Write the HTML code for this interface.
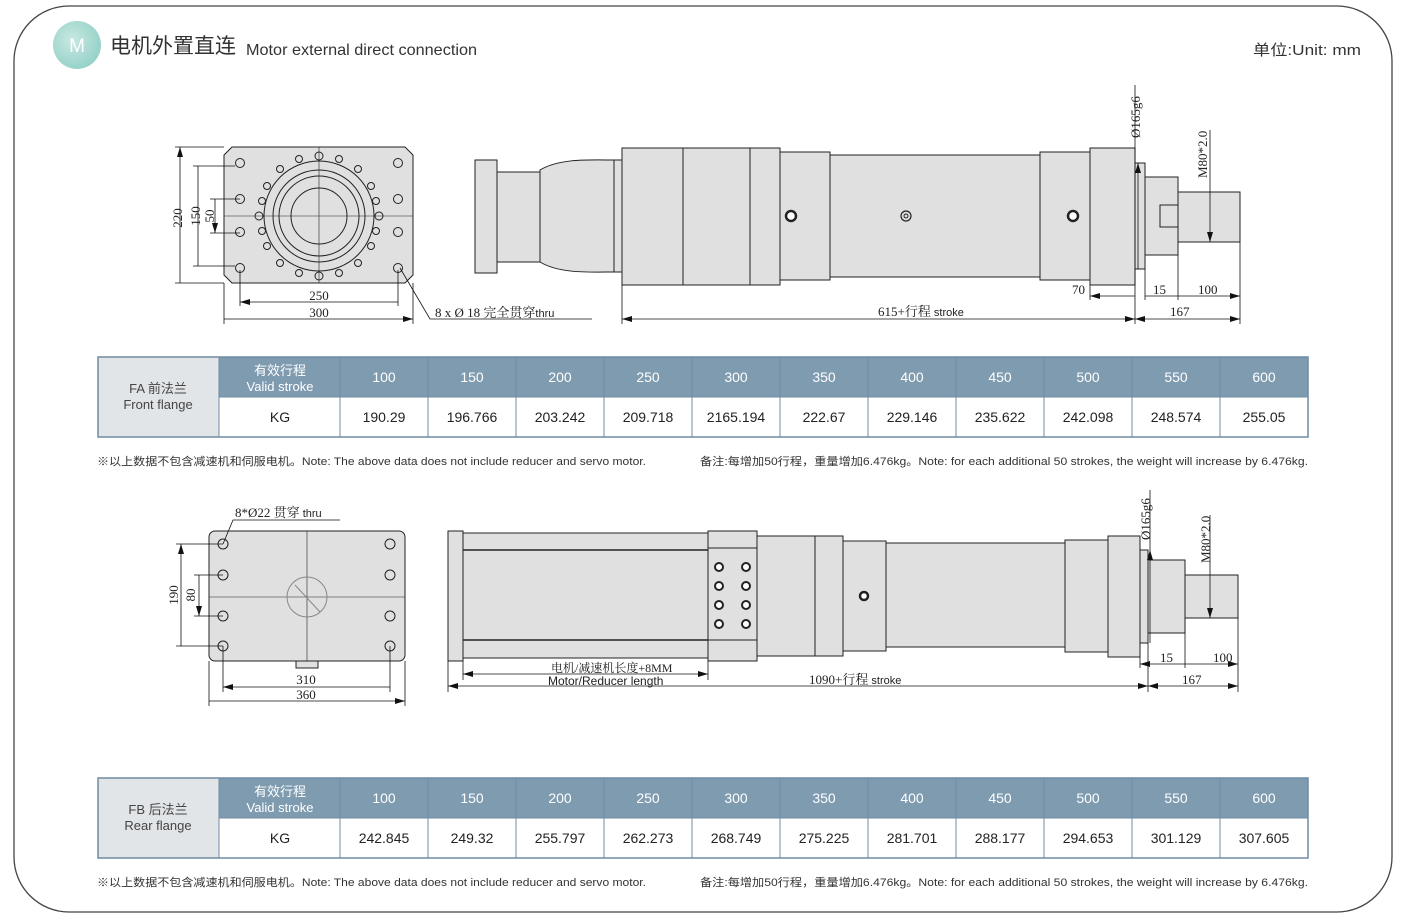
<!DOCTYPE html>
<html><head><meta charset="utf-8"><style>
body{margin:0;background:#fff}
svg{display:block}
.t{font-family:"Liberation Sans","Noto Sans CJK SC",sans-serif}
.s{font-family:"Liberation Serif","Noto Serif CJK SC",serif}
</style></head><body>
<svg width="1408" height="924" viewBox="0 0 1408 924" xmlns="http://www.w3.org/2000/svg">
<defs>
<marker id="a" viewBox="0 0 10 6" refX="10" refY="3" markerWidth="10" markerHeight="6" orient="auto-start-reverse" markerUnits="userSpaceOnUse"><path d="M0,0L10,3L0,6z" fill="#111"/></marker>
<radialGradient id="g" cx="0.4" cy="0.4" r="0.7"><stop offset="0" stop-color="#c9e8e3"/><stop offset="1" stop-color="#8fcfc4"/></radialGradient>
</defs>
<rect x="14" y="6" width="1378" height="906" rx="55" fill="none" stroke="#444" stroke-width="1.3"/>
<circle cx="77" cy="45" r="24" fill="url(#g)"/>
<text x="77" y="52" class="t" font-size="19" fill="#fff" text-anchor="middle">M</text>
<text x="110" y="53" class="t" font-size="21" fill="#333">电机外置直连</text>
<text x="246" y="55" class="t" font-size="16" fill="#333" textLength="231" lengthAdjust="spacingAndGlyphs">Motor external direct connection</text>
<text x="1253" y="55" class="t" font-size="15" fill="#333" textLength="108" lengthAdjust="spacingAndGlyphs">单位:Unit: mm</text>

<g stroke="#222" stroke-width="1" fill="#e0e0e0">
<path d="M232,147H405L413,155V275L405,283H232L224,275V155Z"/>
<circle cx="319" cy="216" r="55" fill="#e0e0e0"/>
<circle cx="319" cy="216" r="46" fill="none"/>
<circle cx="319" cy="216" r="40" fill="none"/>
<circle cx="319" cy="216" r="28" fill="none"/>
<g fill="none">
<circle cx="240" cy="163" r="4.5"/><circle cx="398" cy="163" r="4.5"/><circle cx="240" cy="268" r="4.5"/><circle cx="398" cy="268" r="4.5"/>
<circle cx="240" cy="199" r="4.5"/><circle cx="240" cy="232" r="4.5"/><circle cx="398" cy="199" r="4.5"/><circle cx="398" cy="232" r="4.5"/>
<circle cx="319" cy="156" r="4"/><circle cx="319" cy="276" r="4"/><circle cx="259" cy="216" r="4"/><circle cx="379" cy="216" r="4"/>
<circle cx="299" cy="159" r="3.5"/><circle cx="339" cy="159" r="3.5"/><circle cx="299" cy="273" r="3.5"/><circle cx="339" cy="273" r="3.5"/>
<circle cx="267" cy="186" r="3.5"/><circle cx="371" cy="186" r="3.5"/><circle cx="267" cy="246" r="3.5"/><circle cx="371" cy="246" r="3.5"/>
<circle cx="280" cy="169" r="3.5"/><circle cx="358" cy="169" r="3.5"/><circle cx="280" cy="263" r="3.5"/><circle cx="358" cy="263" r="3.5"/>
<circle cx="262" cy="201" r="3.5"/><circle cx="376" cy="201" r="3.5"/><circle cx="262" cy="231" r="3.5"/><circle cx="376" cy="231" r="3.5"/>
</g>
<path d="M224,216H413M319,147V283" fill="none" stroke-width="0.6"/>
<rect x="475" y="160" width="22" height="113"/>
<rect x="497" y="172" width="43" height="90"/>
<path d="M540,170 C560,158 590,160 614,160 V272 C590,272 560,274 540,262Z"/>
<rect x="614" y="160" width="8" height="112"/>
<rect x="622" y="148" width="158" height="137"/>
<path d="M683,148V285M750,148V285" fill="none"/>
<rect x="780" y="152" width="50" height="128"/>
<rect x="830" y="155" width="210" height="122"/>
<rect x="1040" y="152" width="50" height="128"/>
<rect x="1090" y="148" width="45" height="137"/>
<rect x="1135" y="163" width="10" height="106"/>
<rect x="1145" y="177" width="33" height="78"/>
<rect x="1160" y="205" width="18" height="22"/>
<rect x="1178" y="192" width="62" height="50"/>
<circle cx="791" cy="216" r="5" fill="#fff" stroke-width="2.5"/>
<circle cx="906" cy="216" r="5" fill="none" stroke-width="1.2"/>
<circle cx="906" cy="216" r="2" fill="none"/>
<circle cx="1073" cy="216" r="5" fill="#fff" stroke-width="2.5"/>

<rect x="209" y="531" width="196" height="130" rx="6"/>
<rect x="296" y="661" width="22" height="7"/>
<path d="M209,597H405M307,531V661" fill="none" stroke-width="0.6"/>
<circle cx="307" cy="597" r="20" fill="none" stroke="#888"/>
<path d="M295,585L320,612" stroke="#888"/>
<g fill="none"><circle cx="223" cy="544" r="5"/><circle cx="390" cy="544" r="5"/><circle cx="223" cy="575" r="5"/><circle cx="390" cy="575" r="5"/><circle cx="223" cy="616" r="5"/><circle cx="390" cy="616" r="5"/><circle cx="223" cy="646" r="5"/><circle cx="390" cy="646" r="5"/></g>
<rect x="448" y="531" width="15" height="130"/>
<rect x="463" y="533" width="245" height="125"/>
<path d="M463,550H708M463,640H708" fill="none" stroke-width="1.5"/>
<rect x="708" y="531" width="49" height="130"/>
<path d="M708,548H757M708,640H757" fill="none"/>
<rect x="757" y="536" width="58" height="120"/>
<rect x="815" y="536" width="28" height="120"/>
<rect x="843" y="541" width="43" height="110"/>
<rect x="886" y="543" width="179" height="104"/>
<rect x="1065" y="540" width="43" height="112"/>
<rect x="1108" y="536" width="32" height="121"/>
<rect x="1140" y="550" width="8" height="93"/>
<rect x="1148" y="560" width="37" height="73"/>
<rect x="1185" y="575" width="53" height="43"/>
<g fill="#fff" stroke-width="2"><circle cx="719" cy="567" r="4"/><circle cx="746" cy="567" r="4"/><circle cx="719" cy="586" r="4"/><circle cx="746" cy="586" r="4"/><circle cx="719" cy="605" r="4"/><circle cx="746" cy="605" r="4"/><circle cx="719" cy="624" r="4"/><circle cx="746" cy="624" r="4"/></g>
<circle cx="864" cy="596" r="4" fill="#fff" stroke-width="2.5"/>
</g>

<g stroke="#111" stroke-width="0.8" fill="none">
<path d="M180,147V283M198,166V266M215,199V233" marker-start="url(#a)" marker-end="url(#a)"/>
<path d="M175,147H224M193,166H235M210,199H240M175,283H224M193,266H235M210,233H240"/>
<path d="M240,302H398M224,319H413" marker-start="url(#a)" marker-end="url(#a)"/>
<path d="M224,283V324M413,283V324M240,270V306M398,270V306"/>
<path d="M400,268L430,319H592"/>
<path d="M622,319H1135" marker-start="url(#a)" marker-end="url(#a)"/>
<path d="M1135,319H1240" marker-start="url(#a)" marker-end="url(#a)"/>
<path d="M622,285V324M1135,85V324M1240,242V324M1178,255V300M1145,269V300M1090,285V300"/>
<path d="M1090,296H1135M1145,296H1178M1178,296H1240" marker-start="url(#a)" marker-end="url(#a)"/>
<path d="M1138,163V269M1210,192V242" marker-start="url(#a)" marker-end="url(#a)"/>
<path d="M1210,130V192"/>
<path d="M181,544V646M199,575V616" marker-start="url(#a)" marker-end="url(#a)"/>
<path d="M176,544H223M194,575H223M176,646H223M194,616H223"/>
<path d="M223,687H390M209,701H405" marker-start="url(#a)" marker-end="url(#a)"/>
<path d="M209,661V706M405,661V706M223,646V692M390,646V692"/>
<path d="M223,544L233,520H340"/>
<path d="M463,674H708" marker-start="url(#a)" marker-end="url(#a)"/>
<path d="M463,661V680M708,661V680M448,661V692"/>
<path d="M448,686H1148" marker-start="url(#a)" marker-end="url(#a)"/>
<path d="M1148,686H1238" marker-start="url(#a)" marker-end="url(#a)"/>
<path d="M1148,643V692M1238,618V692M1185,633V668M1140,657V668"/>
<path d="M1140,664H1148M1148,664H1185M1185,664H1238" marker-start="url(#a)" marker-end="url(#a)"/>
<path d="M1150,550V643M1210,575V618" marker-start="url(#a)" marker-end="url(#a)"/>
<path d="M1150,490V550M1210,515V575"/>
</g>

<g class="s" font-size="13" fill="#222">
<text transform="translate(182,218) rotate(-90)" text-anchor="middle">220</text>
<text transform="translate(200,216) rotate(-90)" text-anchor="middle">150</text>
<text transform="translate(214,216) rotate(-90)" text-anchor="middle">50</text>
<text x="319" y="300" text-anchor="middle">250</text>
<text x="319" y="317" text-anchor="middle">300</text>
<text x="435" y="317">8  x   Ø   18  完全贯穿<tspan class="t" font-size="11">thru</tspan></text>
<text x="878" y="316">615+行程<tspan class="t" font-size="11"> stroke</tspan></text>
<text x="1072" y="294">70</text>
<text x="1153" y="294">15</text>
<text x="1198" y="294">100</text>
<text x="1170" y="316">167</text>
<text transform="translate(1140,138) rotate(-90)">Ø165g6</text>
<text transform="translate(1207,178) rotate(-90)">M80*2.0</text>
<text transform="translate(178,595) rotate(-90)" text-anchor="middle">190</text>
<text transform="translate(195,595) rotate(-90)" text-anchor="middle">80</text>
<text x="306" y="684" text-anchor="middle">310</text>
<text x="306" y="699" text-anchor="middle">360</text>
<text x="235" y="517">8*Ø22  贯穿<tspan class="t" font-size="11"> thru</tspan></text>
<text x="551" y="672" font-size="12">电机/减速机长度+8MM</text>
<text x="548" y="685" class="t" font-size="12">Motor/Reducer length</text>
<text x="809" y="684">1090+行程<tspan class="t" font-size="11"> stroke</tspan></text>
<text x="1160" y="662">15</text>
<text x="1213" y="662">100</text>
<text x="1182" y="684">167</text>
<text transform="translate(1150,540) rotate(-90)">Ø165g6</text>
<text transform="translate(1210,563) rotate(-90)">M80*2.0</text>
</g>

<g class="t">
<rect x="98" y="357" width="1210" height="80" fill="#fff"/>
<rect x="98" y="357" width="121" height="80" fill="#e2e5e8"/>
<rect x="219" y="357" width="1089" height="40" fill="#7f9bb0"/>
<rect x="98" y="357" width="1210" height="80" fill="none" stroke="#6f8ca3" stroke-width="1.5"/>
<g stroke="#6f8ca3" stroke-width="1"><path d="M219,357V437M340,357V437M428,357V437M516,357V437M604,357V437M692,357V437M780,357V437M868,357V437M956,357V437M1044,357V437M1132,357V437M1220,357V437M219,397H1308"/></g>
<text x="158" y="393" font-size="13" fill="#444" text-anchor="middle">FA 前法兰</text>
<text x="158" y="409" font-size="13" fill="#444" text-anchor="middle">Front flange</text>
<text x="280" y="375" font-size="13" fill="#fff" text-anchor="middle">有效行程</text>
<text x="280" y="391" font-size="13" fill="#fff" text-anchor="middle">Valid stroke</text>
<g font-size="14" fill="#fff" text-anchor="middle"><text x="384" y="382">100</text><text x="472" y="382">150</text><text x="560" y="382">200</text><text x="648" y="382">250</text><text x="736" y="382">300</text><text x="824" y="382">350</text><text x="912" y="382">400</text><text x="1000" y="382">450</text><text x="1088" y="382">500</text><text x="1176" y="382">550</text><text x="1264" y="382">600</text></g>
<g font-size="14" fill="#222" text-anchor="middle"><text x="280" y="422">KG</text><text x="384" y="422">190.29</text><text x="472" y="422">196.766</text><text x="560" y="422">203.242</text><text x="648" y="422">209.718</text><text x="736" y="422">2165.194</text><text x="824" y="422">222.67</text><text x="912" y="422">229.146</text><text x="1000" y="422">235.622</text><text x="1088" y="422">242.098</text><text x="1176" y="422">248.574</text><text x="1264" y="422">255.05</text></g>
<text x="97" y="465" font-size="11" fill="#333" textLength="549" lengthAdjust="spacingAndGlyphs">※以上数据不包含减速机和伺服电机。Note: The above data does not include reducer and servo motor.</text>
<text x="700" y="465" font-size="11" fill="#333" textLength="608" lengthAdjust="spacingAndGlyphs">备注:每增加50行程，重量增加6.476kg。Note: for each additional 50 strokes, the weight will increase by 6.476kg.</text>
</g>

<g class="t">
<rect x="98" y="778" width="1210" height="80" fill="#fff"/>
<rect x="98" y="778" width="121" height="80" fill="#e2e5e8"/>
<rect x="219" y="778" width="1089" height="40" fill="#7f9bb0"/>
<rect x="98" y="778" width="1210" height="80" fill="none" stroke="#6f8ca3" stroke-width="1.5"/>
<g stroke="#6f8ca3" stroke-width="1"><path d="M219,778V858M340,778V858M428,778V858M516,778V858M604,778V858M692,778V858M780,778V858M868,778V858M956,778V858M1044,778V858M1132,778V858M1220,778V858M219,818H1308"/></g>
<text x="158" y="814" font-size="13" fill="#444" text-anchor="middle">FB 后法兰</text>
<text x="158" y="830" font-size="13" fill="#444" text-anchor="middle">Rear flange</text>
<text x="280" y="796" font-size="13" fill="#fff" text-anchor="middle">有效行程</text>
<text x="280" y="812" font-size="13" fill="#fff" text-anchor="middle">Valid stroke</text>
<g font-size="14" fill="#fff" text-anchor="middle"><text x="384" y="803">100</text><text x="472" y="803">150</text><text x="560" y="803">200</text><text x="648" y="803">250</text><text x="736" y="803">300</text><text x="824" y="803">350</text><text x="912" y="803">400</text><text x="1000" y="803">450</text><text x="1088" y="803">500</text><text x="1176" y="803">550</text><text x="1264" y="803">600</text></g>
<g font-size="14" fill="#222" text-anchor="middle"><text x="280" y="843">KG</text><text x="384" y="843">242.845</text><text x="472" y="843">249.32</text><text x="560" y="843">255.797</text><text x="648" y="843">262.273</text><text x="736" y="843">268.749</text><text x="824" y="843">275.225</text><text x="912" y="843">281.701</text><text x="1000" y="843">288.177</text><text x="1088" y="843">294.653</text><text x="1176" y="843">301.129</text><text x="1264" y="843">307.605</text></g>
<text x="97" y="886" font-size="11" fill="#333" textLength="549" lengthAdjust="spacingAndGlyphs">※以上数据不包含减速机和伺服电机。Note: The above data does not include reducer and servo motor.</text>
<text x="700" y="886" font-size="11" fill="#333" textLength="608" lengthAdjust="spacingAndGlyphs">备注:每增加50行程，重量增加6.476kg。Note: for each additional 50 strokes, the weight will increase by 6.476kg.</text>
</g>
</svg>
</body></html>
